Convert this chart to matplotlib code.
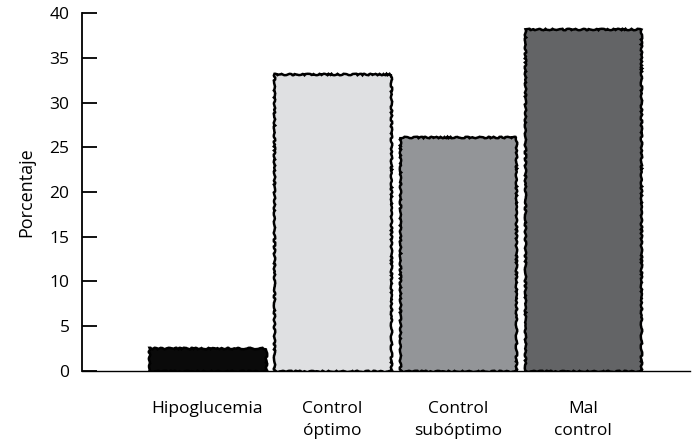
import numpy as np
import matplotlib
matplotlib.use('Agg')
import matplotlib.pyplot as plt

categories = ['Hipoglucemia', 'Control\nóptimo', 'Control\nsubóptimo', 'Mal\ncontrol']
values = [2.6, 33.2, 26.2, 38.2]
colors = ['#0a0a0a', '#dfe0e2', '#939598', '#636466']

plt.rcParams['font.family'] = ['Open Sans', 'DejaVu Sans']

fig = plt.figure(figsize=(6.95, 4.4), dpi=100)
ax = fig.add_axes([0.118, 0.157, 0.875, 0.813])

x = np.arange(len(categories))
bars = ax.bar(x, values, width=0.93, color=colors, edgecolor='black', linewidth=1.8)
for b in bars:
    b.set_sketch_params(scale=0.7, length=10, randomness=5)

ax.set_xlim(-1.0, 3.855)
ax.set_ylim(0, 40)
ax.set_yticks(range(0, 41, 5))
ax.set_xticks(x)
ax.set_xticklabels(categories, fontsize=12.5, linespacing=1.45)
ax.tick_params(axis='x', length=0, pad=22)
ax.tick_params(axis='y', direction='in', length=11, width=1.3, labelsize=12.5, pad=9)
ax.set_ylabel('Porcentaje', fontsize=13, labelpad=10)

ax.spines['top'].set_visible(False)
ax.spines['right'].set_visible(False)
ax.spines['left'].set_linewidth(1.3)
ax.spines['bottom'].set_linewidth(1.0)

fig.savefig('out.png', dpi=100)
